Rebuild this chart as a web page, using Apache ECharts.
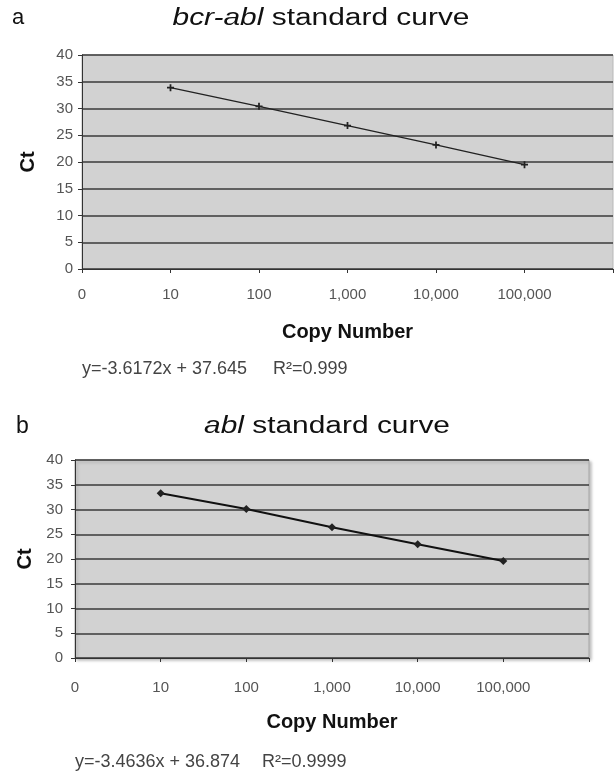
<!DOCTYPE html>
<html>
<head>
<meta charset="utf-8">
<title>standard curves</title>
<script src="https://cdn.jsdelivr.net/npm/echarts@6/dist/echarts.min.js"></script>
<style>
  html, body { margin: 0; padding: 0; background: #fff; }
  #chart { width: 616px; height: 774px; }
</style>
</head>
<body>
<div id="chart"></div>
<script>
// x categories (copy number, log steps)
const copyLabels = ['0', '10', '100', '1,000', '10,000', '100,000', ''];
// Ct values
const ctBcrAbl = [null, 33.9, 30.4, 26.8, 23.2, 19.5, null];
const ctAbl = [null, 33.3, 30.1, 26.4, 23.0, 19.6, null];
const eqBcrAbl = ['y=-3.6172x + 37.645', 'R²=0.999'];
const eqAbl = ['y=-3.4636x + 36.874', 'R²=0.9999'];

const font = '"Liberation Sans", Arial, sans-serif';
const chart = echarts.init(document.getElementById('chart'));

// shared axis styles
function xAxisFor(gridIndex, margin, gap) {
  return {
    type: 'category',
    gridIndex: gridIndex,
    data: copyLabels,
    boundaryGap: false,
    axisLine: { lineStyle: { color: '#333', width: 1 } },
    axisTick: { show: true, length: 4, alignWithLabel: true, lineStyle: { color: '#333' } },
    axisLabel: { color: '#555', fontSize: 15, margin: margin, interval: 0 },
    splitLine: { show: false },
    name: 'Copy Number',
    nameLocation: 'middle',
    nameGap: gap,
    nameTextStyle: { color: '#111', fontSize: 20, fontWeight: 'bold' }
  };
}
function yAxisFor(gridIndex, margin, gap) {
  return {
    type: 'value',
    gridIndex: gridIndex,
    min: 0,
    max: 40,
    interval: 5,
    axisLine: { show: true, lineStyle: { color: '#333', width: 1 } },
    axisTick: { show: true, length: 4, lineStyle: { color: '#333' } },
    axisLabel: { color: '#555', fontSize: 15, margin: margin },
    splitLine: { lineStyle: { color: '#3a3a3a', width: 1.5 } },
    name: 'Ct',
    nameLocation: 'middle',
    nameGap: gap,
    nameRotate: 90,
    nameTextStyle: { color: '#111', fontSize: 20, fontWeight: 'bold' }
  };
}

// title text is wide in the original, so stretch it a bit
function titleText(x, y, text) {
  return {
    type: 'text', x: x, y: y, scaleX: 1.3, originX: 0,
    style: {
      text: text, fontSize: 23, fill: '#111', fontFamily: font,
      align: 'center', verticalAlign: 'middle',
      rich: { i: { fontSize: 23, fontStyle: 'italic', fill: '#111', fontFamily: font } }
    }
  };
}
function plainText(x, y, text, size) {
  return {
    type: 'text', x: x, y: y,
    style: { text: text, fontSize: size, fill: '#444', fontFamily: font, verticalAlign: 'middle' }
  };
}

const plus = 'path://M3,0H5V3H8V5H5V8H3V5H0V3H3Z';

let option = {
  animation: false,
  textStyle: { fontFamily: font },
  grid: [
    { left: 82, top: 55, width: 532, height: 214, show: true,
      backgroundColor: '#d2d2d2', borderColor: '#b8b8b8', borderWidth: 1 },
    { left: 75, top: 460, width: 514, height: 198, show: true,
      backgroundColor: '#d2d2d2', borderColor: '#a8a8a8', borderWidth: 1,
      shadowColor: 'rgba(0,0,0,0.25)', shadowBlur: 3, shadowOffsetX: 2, shadowOffsetY: 2 }
  ],
  xAxis: [xAxisFor(0, 18, 53), xAxisFor(1, 22, 54)],
  yAxis: [yAxisFor(0, 9, 44), yAxisFor(1, 12, 40)],
  series: [
    {
      type: 'line', xAxisIndex: 0, yAxisIndex: 0,
      data: ctBcrAbl,
      symbol: plus, symbolSize: 7,
      itemStyle: { color: '#222' },
      lineStyle: { color: '#222', width: 1.4 }
    },
    {
      type: 'line', xAxisIndex: 1, yAxisIndex: 1,
      data: ctAbl,
      symbol: 'diamond', symbolSize: 8,
      itemStyle: { color: '#222' },
      lineStyle: { color: '#111', width: 2 }
    }
  ],
  graphic: [
    titleText(321, 19, '{i|bcr-abl} standard curve'),
    titleText(327, 427, '{i|abl} standard curve'),
    { type: 'text', x: 12, y: 18, style: { text: 'a', fontSize: 22, fill: '#111', fontFamily: font, verticalAlign: 'middle' } },
    { type: 'text', x: 16, y: 427, style: { text: 'b', fontSize: 23, fill: '#111', fontFamily: font, verticalAlign: 'middle' } },
    plainText(82, 369, eqBcrAbl[0], 18),
    plainText(273, 369, eqBcrAbl[1], 18),
    plainText(75, 762, eqAbl[0], 18),
    plainText(262, 762, eqAbl[1], 18)
  ]
};

chart.setOption(option);
</script>
</body>
</html>
